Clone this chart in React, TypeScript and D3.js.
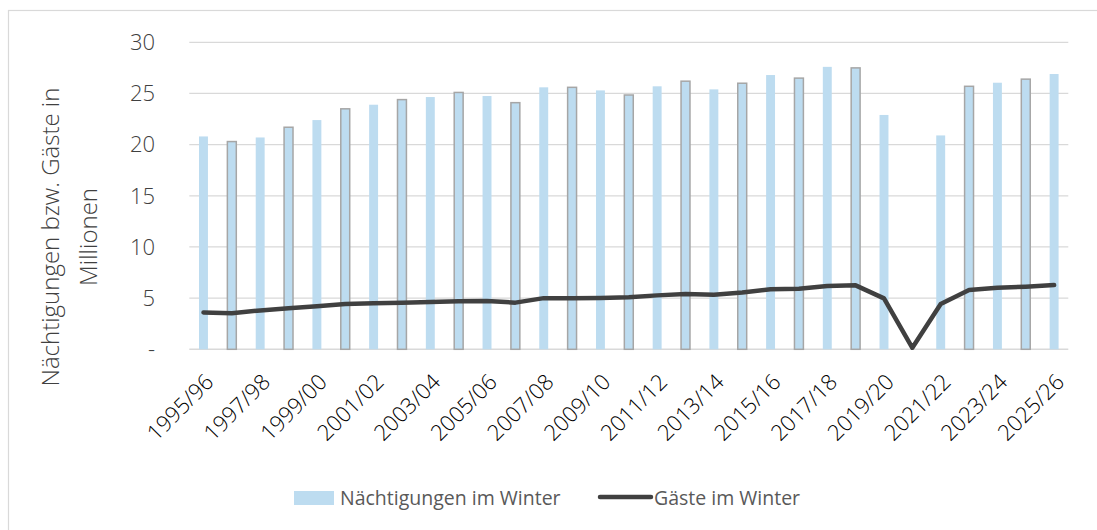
import React from "react";
import * as d3 from "d3";

const seasons = [
  "1995/96","1996/97","1997/98","1998/99","1999/00","2000/01","2001/02","2002/03",
  "2003/04","2004/05","2005/06","2006/07","2007/08","2008/09","2009/10","2010/11",
  "2011/12","2012/13","2013/14","2014/15","2015/16","2016/17","2017/18","2018/19",
  "2019/20","2020/21","2021/22","2022/23","2023/24","2024/25","2025/26",
];
const naechtigungen = [
  20.8, 20.3, 20.7, 21.7, 22.4, 23.5, 23.9, 24.4,
  24.65, 25.1, 24.75, 24.1, 25.6, 25.6, 25.3, 24.85,
  25.7, 26.2, 25.4, 26.0, 26.8, 26.5, 27.6, 27.5,
  22.9, 0, 20.9, 25.7, 26.05, 26.4, 26.9,
];
const gaeste = [
  3.6, 3.52, 3.8, 4.0, 4.2, 4.42, 4.5, 4.56,
  4.62, 4.7, 4.72, 4.56, 5.0, 5.0, 5.02, 5.08,
  5.27, 5.4, 5.34, 5.56, 5.86, 5.92, 6.19, 6.25,
  4.98, 0.15, 4.43, 5.8, 6.02, 6.12, 6.28,
];
const yTicks = [0, 5, 10, 15, 20, 25, 30];
const yTickLabels = ["-", "5", "10", "15", "20", "25", "30"];
const legendLabels = ["Nächtigungen im Winter", "Gäste im Winter"];
const axisTitle = ["Nächtigungen bzw. Gäste in", "Millionen"];

const W = 1097;
const H = 530;
const FONT = "'Open Sans', 'Segoe UI', sans-serif";

export default function App() {
  const x = d3.scaleBand<string>().domain(seasons).range([189.3, 1068.3]).padding(0);
  const y = d3.scaleLinear().domain([0, 30]).range([349.3, 42.3]);
  const step = x.step();
  const barW = step * 0.315;
  const cx = (s: string) => (x(s) as number) + step / 2;

  const line = d3
    .line<number>()
    .x((_, i) => cx(seasons[i]))
    .y((d) => y(d));

  return (
    <svg
      width={W}
      height={H}
      style={{ position: "absolute", left: 0, top: 0, display: "block", background: "#fff" }}
    >
      <rect x={8.5} y={10.5} width={1100} height={540} fill="#fff" stroke="#D9D9D9" strokeWidth={1.2} />
      {yTicks.map((t, i) => (
        <g key={t}>
          <line
            x1={189.3}
            x2={1068.3}
            y1={y(t)}
            y2={y(t)}
            stroke="#D9D9D9"
            strokeWidth={i === 0 ? 1.6 : 1.3}
          />
          <text
            x={155}
            y={y(t)}
            dy="0.35em"
            textAnchor="end"
            fontFamily={FONT}
            fontWeight={300}
            fontSize={22}
            fill="#404040"
          >
            {yTickLabels[i]}
          </text>
        </g>
      ))}
      {seasons.map((s, i) =>
        naechtigungen[i] > 0 ? (
          <rect
            key={s}
            x={cx(s) - barW / 2}
            y={y(naechtigungen[i])}
            width={barW}
            height={y(0) - y(naechtigungen[i])}
            fill="#BDDCF0"
            stroke={i % 2 === 1 ? "#A6A6A6" : "none"}
            strokeWidth={1.5}
          />
        ) : null
      )}
      <path
        d={line(gaeste) || ""}
        fill="none"
        stroke="#404040"
        strokeWidth={4.5}
        strokeLinejoin="round"
        strokeLinecap="round"
      />
      {seasons.map((s, i) =>
        i % 2 === 0 ? (
          <text
            key={s}
            transform={`translate(${cx(s) + 6},${378}) rotate(-45)`}
            textAnchor="end"
            dy="0.35em"
            fontFamily={FONT}
            fontWeight={300}
            fontSize={22}
            fill="#000"
          >
            {s}
          </text>
        ) : null
      )}
      <g transform="translate(0,237) rotate(-90)" fontFamily={FONT} fontWeight={300} fontSize={24} fill="#404040">
        <text x={0} y={59} textAnchor="middle">{axisTitle[0]}</text>
        <text x={0} y={97} textAnchor="middle">{axisTitle[1]}</text>
      </g>
      <g fontFamily={FONT} fontSize={19.5} fill="#595959">
        <rect x={294} y={491} width={40} height={14} fill="#BDDCF0" />
        <text x={340} y={498} dy="0.35em">{legendLabels[0]}</text>
        <line x1={600} x2={651} y1={497} y2={497} stroke="#404040" strokeWidth={4.5} strokeLinecap="round" />
        <text x={654} y={498} dy="0.35em">{legendLabels[1]}</text>
      </g>
    </svg>
  );
}
